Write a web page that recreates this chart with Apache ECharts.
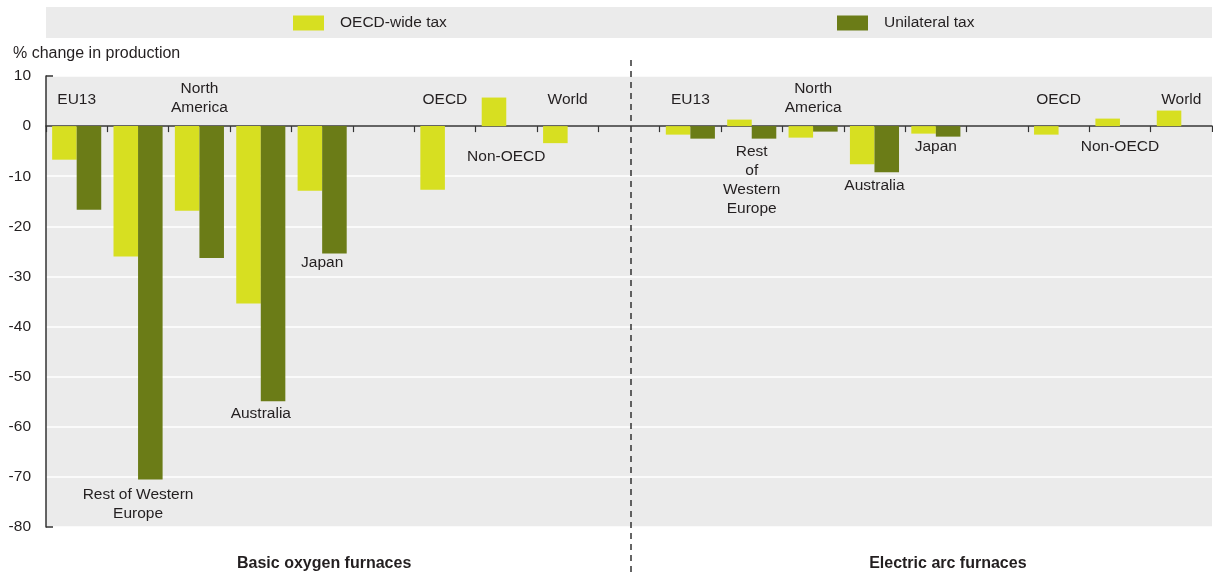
<!DOCTYPE html>
<html>
<head>
<meta charset="utf-8">
<style>
  html, body { margin: 0; padding: 0; background: #fff; }
  #main { width: 1213px; height: 574px; }
</style>
<script src="https://cdn.jsdelivr.net/npm/echarts@6/dist/echarts.min.js"></script>
</head>
<body>
<div id="main"></div>
<script>
// regions shown in each panel (blank slot is the empty column before OECD)
var regions = ['EU13', 'Rest of Western Europe', 'North America', 'Australia', 'Japan', '', 'OECD', 'Non-OECD', 'World'];

// % change in production, basic oxygen furnaces
var bofOecdWide = [-6.7, -26.0, -16.9, -35.4, -12.9, null, -12.7, 5.7, -3.4];
var bofUnilateral = [-16.7, -70.5, -26.3, -54.9, -25.4, null, null, null, null];
// % change in production, electric arc furnaces
var eafOecdWide = [-1.7, 1.3, -2.3, -7.6, -1.5, null, -1.7, 1.5, 3.1];
var eafUnilateral = [-2.5, -2.5, -1.1, -9.2, -2.1, null, null, null, null];

// region labels written in the plot, and the value they sit at
var bofLabels = ['EU13', 'Rest of Western\nEurope', 'North\nAmerica', 'Australia', 'Japan', '', 'OECD', 'Non-OECD', 'World'];
var bofLabelAt = [5.3, -75.5, 5.6, -57.3, -27.2, null, 5.3, -6.1, 5.3];
var eafLabels = ['EU13', 'Rest\nof\nWestern\nEurope', 'North\nAmerica', 'Australia', 'Japan', '', 'OECD', 'Non-OECD', 'World'];
var eafLabelAt = [5.3, -10.7, 5.6, -11.8, -4.1, null, 5.3, -4.1, 5.3];

var yTicks = { min: -80, max: 10, interval: 10 };
var panelTitles = ['Basic oxygen furnaces', 'Electric arc furnaces'];

var FONT = '"Liberation Sans", Arial, sans-serif';
var TXT = '#231f20';
var YELLOW = '#d7df21';
var GREEN = '#6b7c17';

// one category axis: 9 slots, a gap slot, 9 slots
var cats = [];
regions.forEach(function (r, i) { cats.push('BOF ' + i); });
cats.push('gap');
regions.forEach(function (r, i) { cats.push('EAF ' + i); });

var oecdWide = bofOecdWide.concat([null], eafOecdWide);
var unilateral = bofUnilateral.concat([null], eafUnilateral);

var labelData = [];
bofLabels.forEach(function (t, i) {
  if (t) labelData.push({ name: t, value: [i, bofLabelAt[i]] });
});
eafLabels.forEach(function (t, i) {
  if (t) labelData.push({ name: t, value: [i + 10, eafLabelAt[i]] });
});

var legendText = { fontFamily: FONT, fontSize: 15.5, color: TXT, padding: [0, 0, 0, 11] };

var myChart = echarts.init(document.getElementById('main'));
myChart.setOption({
  animation: false,
  textStyle: { fontFamily: FONT },
  color: [YELLOW, GREEN],
  grid: {
    left: 46, right: 1, top: 76, bottom: 47,
    show: true, backgroundColor: '#ebebeb', borderWidth: 0
  },
  legend: [{
    data: ['OECD-wide tax'],
    left: 293, top: 15, padding: 0,
    itemWidth: 31, itemHeight: 15,
    icon: 'rect',
    textStyle: legendText
  }, {
    data: ['Unilateral tax'],
    left: 837, top: 15, padding: 0,
    itemWidth: 31, itemHeight: 15,
    icon: 'rect',
    textStyle: legendText
  }],
  xAxis: {
    type: 'category',
    data: cats,
    axisLine: { onZero: true, lineStyle: { color: '#333', width: 1.5 } },
    axisTick: { show: true, length: 6, lineStyle: { color: '#333', width: 1.2 } },
    axisLabel: { show: false },
    splitLine: { show: false }
  },
  yAxis: {
    type: 'value',
    min: yTicks.min, max: yTicks.max, interval: yTicks.interval,
    axisLine: { show: true, lineStyle: { color: '#333', width: 1.5 } },
    axisTick: { show: false },
    axisLabel: { fontFamily: FONT, fontSize: 15.5, color: TXT, margin: 15 },
    splitLine: { lineStyle: { color: '#ffffff', width: 1.5 } }
  },
  series: [{
    name: 'OECD-wide tax',
    type: 'bar',
    data: oecdWide,
    barGap: '0%',
    barCategoryGap: '20%'
  }, {
    name: 'Unilateral tax',
    type: 'bar',
    data: unilateral,
    barGap: '0%',
    barCategoryGap: '20%'
  }, {
    name: 'labels',
    type: 'scatter',
    data: labelData,
    symbolSize: 0,
    silent: true,
    z: 5,
    itemStyle: { opacity: 1 },
    label: {
      show: true,
      position: 'inside',
      formatter: '{b}',
      fontFamily: FONT,
      fontSize: 15.5,
      lineHeight: 19,
      color: TXT,
      align: 'center'
    }
  }]
});

// decorations placed from the axis scales
var gapX = myChart.convertToPixel({ xAxisIndex: 0 }, 'gap');
var leftMid = myChart.convertToPixel({ xAxisIndex: 0 }, 'BOF 4');
var rightMid = myChart.convertToPixel({ xAxisIndex: 0 }, 'EAF 4');
var yTop = myChart.convertToPixel({ yAxisIndex: 0 }, yTicks.max);
var yBot = myChart.convertToPixel({ yAxisIndex: 0 }, yTicks.min);
myChart.setOption({
  graphic: [{
    type: 'rect',
    shape: { x: 46, y: 7, width: 1166, height: 31 },
    style: { fill: '#ebebeb' },
    z: -1
  }, {
    type: 'line',
    shape: { x1: gapX + 2, y1: 60, x2: gapX + 2, y2: 574 },
    style: { stroke: '#333', lineWidth: 1.5, lineDash: [6, 5] }
  }, {
    type: 'line',
    shape: { x1: 46, y1: yTop, x2: 53, y2: yTop },
    style: { stroke: '#333', lineWidth: 1.5 }
  }, {
    type: 'line',
    shape: { x1: 46, y1: yBot, x2: 53, y2: yBot },
    style: { stroke: '#333', lineWidth: 1.5 }
  }, {
    type: 'text',
    left: 13, top: 46,
    style: { text: '% change in production', font: '16px ' + FONT, fill: TXT }
  }, {
    type: 'text',
    x: leftMid + 2, y: 564,
    style: { text: panelTitles[0], font: 'bold 16px ' + FONT, fill: TXT, align: 'center', verticalAlign: 'middle' }
  }, {
    type: 'text',
    x: rightMid + 12, y: 564,
    style: { text: panelTitles[1], font: 'bold 16px ' + FONT, fill: TXT, align: 'center', verticalAlign: 'middle' }
  }]
});
</script>
</body>
</html>
